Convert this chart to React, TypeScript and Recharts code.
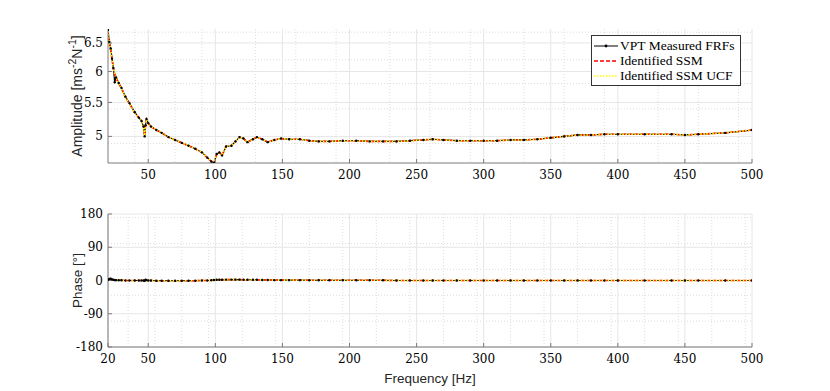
import { CartesianGrid, Legend, Line, LineChart, XAxis, YAxis } from "recharts";

const freq = [
  20, 21, 22, 23, 24, 25, 26, 28, 30, 33, 36, 40, 43, 45, 46.5, 47.3, 48, 48.7, 50, 52,
  56, 60, 65, 70, 75, 80, 85, 90, 94, 97, 99, 101, 103, 105, 108, 112, 115, 118, 121, 124,
  128, 131, 135, 139, 144, 149, 155, 163, 170, 177, 185, 195, 205, 215, 225, 235, 245, 255, 262, 270,
  280, 290, 300, 310, 320, 330, 340, 350, 360, 370, 380, 390, 400, 420, 440, 450, 460, 480, 500,
];

const ampMeasured = [
  6.74, 6.52, 6.4, 6.22, 6.06, 5.82, 5.9, 5.81, 5.73, 5.59, 5.49, 5.35, 5.27, 5.22, 5.14, 5.0, 5.16, 5.25, 5.19, 5.14,
  5.09, 5.05, 4.99, 4.95, 4.91, 4.87, 4.83, 4.78, 4.71, 4.66, 4.64, 4.76, 4.78, 4.74, 4.86, 4.87, 4.93, 4.99, 4.97, 4.92,
  4.96, 4.99, 4.96, 4.92, 4.95, 4.97, 4.96, 4.96, 4.94, 4.93, 4.93, 4.94, 4.94, 4.93, 4.93, 4.93, 4.94, 4.95, 4.96, 4.95,
  4.94, 4.94, 4.94, 4.94, 4.95, 4.95, 4.96, 4.98, 5.0, 5.02, 5.02, 5.03, 5.03, 5.03, 5.03, 5.02, 5.03, 5.05, 5.09,
];

const ampSSM = [
  6.72, 6.5, 6.38, 6.21, 6.05, 5.96, 5.9, 5.8, 5.72, 5.58, 5.48, 5.34, 5.27, 5.22, 5.14, 5.01, 5.15, 5.24, 5.19, 5.14,
  5.09, 5.05, 4.99, 4.95, 4.91, 4.87, 4.83, 4.78, 4.71, 4.66, 4.64, 4.75, 4.78, 4.74, 4.86, 4.87, 4.93, 4.99, 4.97, 4.92,
  4.96, 4.99, 4.96, 4.92, 4.95, 4.97, 4.96, 4.96, 4.94, 4.93, 4.93, 4.94, 4.94, 4.93, 4.93, 4.93, 4.94, 4.95, 4.96, 4.95,
  4.94, 4.94, 4.94, 4.94, 4.95, 4.95, 4.96, 4.98, 5.0, 5.02, 5.02, 5.03, 5.03, 5.03, 5.03, 5.02, 5.03, 5.05, 5.09,
];

const ampUCF = ampSSM;

const phaseMeasured = [
  2, 4, 5, 3, 2, 1, 1, 0.5, 0.5, 0, 0, 0, 0, 0, 0, -1, 2, 1, 0, 0,
  -0.5, -0.5, -0.5, -0.5, -0.5, -0.5, -0.5, 0, 0, 0.5, 1.5, 2, 2, 2, 2.5, 2.5, 2.5, 2.5, 2, 2,
  2, 2, 1.5, 1.5, 1, 1, 1, 1, 0.5, 0.5, 0.5, 0.5, 0.5, 0.5, 0.5, 0, 0, 0, 0, 0,
  0, 0, 0, 0, 0, 0, 0, 0, 0, 0, 0, 0, 0, 0, 0, 0, 0, 0, 0,
];

const phaseSSM = phaseMeasured;
const phaseUCF = phaseMeasured;

const freqTicksTop = [50, 100, 150, 200, 250, 300, 350, 400, 450, 500];
const freqTicksBottom = [20, 50, 100, 150, 200, 250, 300, 350, 400, 450, 500];
const ampTicks = [5, 5.5, 6, 6.5];
const phaseTicks = [-180, -90, 0, 90, 180];
const seriesNames = ["VPT Measured FRFs", "Identified SSM", "Identified SSM UCF"];

const rows = freq.map((f, i) => ({
  f,
  m: ampMeasured[i],
  s: ampSSM[i],
  u: ampUCF[i],
  pm: phaseMeasured[i],
  ps: phaseSSM[i],
  pu: phaseUCF[i],
}));

// minor grid positions (MATLAB style dotted grid)
const minorFreqTop: number[] = [];
for (let v = 30; v < 500; v += 10) if (v % 50 !== 0) minorFreqTop.push(v);
const minorFreqBottom: number[] = [];
for (let v = 25; v < 500; v += 5) if (v % 50 !== 0) minorFreqBottom.push(v);
const minorAmp: number[] = [];
for (let k = 47; k <= 67; k++) if (k % 5 !== 0) minorAmp.push(k / 10);
const minorPhase: number[] = [];
for (let v = -170; v < 180; v += 10) if (v % 90 !== 0) minorPhase.push(v);

const SERIF = "'DejaVu Serif', 'Liberation Serif', serif";
const LEGEND_SERIF = "'Liberation Serif', 'DejaVu Serif', serif";
const SANS = "'Liberation Sans', Arial, sans-serif";
const AXIS = "#7a7a7a";

function XTick({ x, y, payload }: any) {
  return (
    <text x={x} y={y} dy="0.71em" textAnchor="middle" style={{ fontFamily: SERIF, fontSize: 12 }} fill="#000">
      {payload.value}
    </text>
  );
}

function YTick({ x, y, payload }: any) {
  return (
    <text x={x} y={y} dy="0.34em" textAnchor="end" style={{ fontFamily: SERIF, fontSize: 12 }} fill="#000">
      {payload.value}
    </text>
  );
}

function FrfLegend() {
  const items = [
    { name: seriesNames[0], color: "#000", dash: undefined, dot: true },
    { name: seriesNames[1], color: "#ff0000", dash: "4 2", dot: false },
    { name: seriesNames[2], color: "#ffff00", dash: "1.5 1.5", dot: false },
  ];
  return (
    <div
      style={{
        border: "1px solid #333",
        background: "#fff",
        padding: "2px 5px 2px 1px",
        fontFamily: LEGEND_SERIF,
        fontSize: 13.5,
        lineHeight: "15px",
        color: "#000",
      }}
    >
      {items.map((it) => (
        <div key={it.name} style={{ display: "flex", alignItems: "center", whiteSpace: "nowrap" }}>
          <svg width={26} height={10} style={{ marginRight: 1 }}>
            <line x1={1} x2={25} y1={5} y2={5} stroke={it.color} strokeWidth={it.dot ? 1 : 1.5} strokeDasharray={it.dash} />
            {it.dot && <circle cx={13} cy={5} r={1.4} fill="#000" />}
          </svg>
          <span>{it.name}</span>
        </div>
      ))}
    </div>
  );
}

function AmpLabel({ viewBox }: any) {
  const cx = viewBox.x + 19;
  const cy = viewBox.y + viewBox.height / 2;
  return (
    <text
      x={cx}
      y={cy}
      transform={`rotate(-90, ${cx}, ${cy})`}
      textAnchor="middle"
      dominantBaseline="central"
      style={{ fontFamily: SANS, fontSize: 14 }}
      fill="#262626"
    >
      Amplitude [ms
      <tspan dy={-5} style={{ fontSize: 10.5 }}>
        -2
      </tspan>
      <tspan dy={5}>N</tspan>
      <tspan dy={-5} style={{ fontSize: 10.5 }}>
        -1
      </tspan>
      <tspan dy={5}>]</tspan>
    </text>
  );
}

function PhaseLabel({ viewBox }: any) {
  const cx = viewBox.x + 19;
  const cy = viewBox.y + viewBox.height / 2;
  return (
    <text
      x={cx}
      y={cy}
      transform={`rotate(-90, ${cx}, ${cy})`}
      textAnchor="middle"
      dominantBaseline="central"
      style={{ fontFamily: SANS, fontSize: 13.5 }}
      fill="#262626"
    >
      Phase [°]
    </text>
  );
}

function FreqLabel({ viewBox }: any) {
  return (
    <text
      x={viewBox.x + viewBox.width / 2}
      y={viewBox.y + 36}
      textAnchor="middle"
      style={{ fontFamily: SANS, fontSize: 13.5 }}
      fill="#262626"
    >
      Frequency [Hz]
    </text>
  );
}

function seriesLines(keys: string[]) {
  return [
    <Line
      key={keys[0]}
      type="linear"
      dataKey={keys[0]}
      name={seriesNames[0]}
      stroke="#000"
      strokeWidth={1.2}
      dot={{ r: 1.2, fill: "#000", stroke: "none" }}
      isAnimationActive={false}
    />,
    <Line
      key={keys[1]}
      type="linear"
      dataKey={keys[1]}
      name={seriesNames[1]}
      stroke="#ff0000"
      strokeWidth={1.6}
      strokeDasharray="4 2"
      dot={false}
      isAnimationActive={false}
    />,
    <Line
      key={keys[2]}
      type="linear"
      dataKey={keys[2]}
      name={seriesNames[2]}
      stroke="#ffff00"
      strokeWidth={1.6}
      strokeDasharray="1.5 1.5"
      dot={false}
      isAnimationActive={false}
    />,
  ];
}

export default function App() {
  return (
    <div style={{ position: "absolute", left: 0, top: 0, width: 830, height: 391, background: "#fff" }}>
      <div style={{ position: "absolute", left: 0, top: 0 }}>
        <LineChart width={830} height={182} data={rows} margin={{ top: 29, right: 78, bottom: 0, left: 58 }}>
          <CartesianGrid
            stroke="#dddddd"
            strokeDasharray="1 2"
            verticalValues={minorFreqTop}
            horizontalValues={minorAmp}
          />
          <CartesianGrid stroke="#e6e6e6" verticalValues={freqTicksTop} horizontalValues={ampTicks} />
          <XAxis
            dataKey="f"
            type="number"
            domain={[20, 500]}
            ticks={freqTicksTop}
            allowDataOverflow
            height={19}
            stroke={AXIS}
            tickSize={-4}
            tickMargin={11}
            tick={<XTick />}
          />
          <XAxis xAxisId="top" orientation="top" dataKey="f" type="number" domain={[20, 500]} ticks={freqTicksTop} height={0} stroke={AXIS} tickSize={-4} tick={false} />
          <YAxis
            scale="log"
            type="number"
            domain={[4.64, 6.76]}
            ticks={ampTicks}
            allowDataOverflow
            width={50}
            stroke={AXIS}
            tickSize={-4}
            tickMargin={9}
            tick={<YTick />}
            label={<AmpLabel />}
          />
          <YAxis yAxisId="right" orientation="right" scale="log" type="number" domain={[4.64, 6.76]} ticks={ampTicks} allowDataOverflow width={0} stroke={AXIS} tickSize={-4} tick={false} />
          {seriesLines(["m", "s", "u"])}
          <Legend
            layout="horizontal"
            verticalAlign="middle"
            content={<FrfLegend />}
            wrapperStyle={{ position: "absolute", left: 591, top: 35, width: "auto" }}
          />
        </LineChart>
      </div>
      <div style={{ position: "absolute", left: 0, top: 190 }}>
        <LineChart width={830} height={201} data={rows} margin={{ top: 24, right: 78, bottom: 0, left: 58 }}>
          <CartesianGrid
            stroke="#dddddd"
            strokeDasharray="1 2"
            verticalValues={minorFreqBottom}
            horizontalValues={minorPhase}
          />
          <CartesianGrid stroke="#e6e6e6" verticalValues={freqTicksBottom} horizontalValues={phaseTicks} />
          <XAxis
            dataKey="f"
            type="number"
            domain={[20, 500]}
            ticks={freqTicksBottom}
            allowDataOverflow
            height={44}
            stroke={AXIS}
            tickSize={-4}
            tickMargin={11}
            tick={<XTick />}
            label={<FreqLabel />}
          />
          <XAxis xAxisId="top" orientation="top" dataKey="f" type="number" domain={[20, 500]} ticks={freqTicksBottom} height={0} stroke={AXIS} tickSize={-4} tick={false} />
          <YAxis
            type="number"
            domain={[-180, 180]}
            ticks={phaseTicks}
            allowDataOverflow
            width={50}
            stroke={AXIS}
            tickSize={-4}
            tickMargin={9}
            tick={<YTick />}
            label={<PhaseLabel />}
          />
          <YAxis yAxisId="right" orientation="right" type="number" domain={[-180, 180]} ticks={phaseTicks} width={0} stroke={AXIS} tickSize={-4} tick={false} />
          {seriesLines(["pm", "ps", "pu"])}
        </LineChart>
      </div>
    </div>
  );
}
